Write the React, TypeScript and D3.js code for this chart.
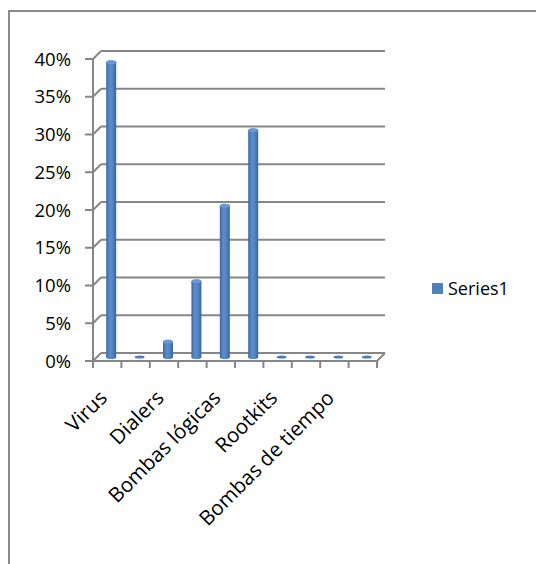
import { scaleBand, scaleLinear } from "d3";

const categories = [
  "Virus",
  "",
  "Dialers",
  "",
  "Bombas lógicas",
  "",
  "Rootkits",
  "",
  "Bombas de tiempo",
  ""
];
const seriesValues = [0.39, 0, 0.02, 0.1, 0.2, 0.3, 0, 0, 0, 0];
const yTickValues = [0, 0.05, 0.1, 0.15, 0.2, 0.25, 0.3, 0.35, 0.4];
const seriesName = "Series1";

const width = 536;
const height = 564;
const depthX = 8;
const depthY = -8;
const barRadius = 5;
const gridColor = "#868686";
const fontFamily = "'Open Sans', 'Noto Sans', sans-serif";

function App() {
  const x = scaleBand<number>()
    .domain(categories.map((_, i) => i))
    .range([93, 377])
    .padding(0);
  const y = scaleLinear().domain([0, 0.4]).range([361, 59]);

  const floorY = y(0);
  const midX = depthX / 2;
  const midY = depthY / 2;

  return (
    <svg
      width={width}
      height={height}
      style={{ position: "absolute", left: 0, top: 0, background: "#fff" }}
    >
      <defs>
        <linearGradient id="cyl" x1="0" x2="1" y1="0" y2="0">
          <stop offset="0" stopColor="#3b6aa3" />
          <stop offset="0.35" stopColor="#5a8ccb" />
          <stop offset="0.6" stopColor="#5687c6" />
          <stop offset="1" stopColor="#38659c" />
        </linearGradient>
      </defs>

      <rect
        x={9}
        y={11}
        width={width + 20}
        height={height + 20}
        fill="#fff"
        stroke="#8a8a8a"
        strokeWidth={2}
      />

      {/* back wall + side wall gridlines */}
      {yTickValues.map((v) => (
        <g key={v}>
          <line
            x1={x.range()[0]}
            x2={x.range()[0] + depthX}
            y1={y(v)}
            y2={y(v) + depthY}
            stroke={gridColor}
            strokeWidth={2}
          />
          <line
            x1={x.range()[0] + depthX}
            x2={x.range()[1] + depthX}
            y1={y(v) + depthY}
            y2={y(v) + depthY}
            stroke={gridColor}
            strokeWidth={2}
          />
          <line
            x1={x.range()[0] - 8}
            x2={x.range()[0]}
            y1={y(v)}
            y2={y(v)}
            stroke={gridColor}
            strokeWidth={2}
          />
          <text
            x={71}
            y={y(v)}
            dy="0.36em"
            textAnchor="end"
            fontFamily={fontFamily}
            fontSize={18.5}
            fill="#000"
          >
            {`${Math.round(v * 100)}%`}
          </text>
        </g>
      ))}

      {/* vertical axis */}
      <line
        x1={x.range()[0]}
        x2={x.range()[0]}
        y1={y(0.4)}
        y2={floorY}
        stroke={gridColor}
        strokeWidth={2}
      />

      {/* floor front edge */}
      <line
        x1={x.range()[0]}
        x2={x.range()[1]}
        y1={floorY}
        y2={floorY}
        stroke={gridColor}
        strokeWidth={2}
      />
      <line
        x1={x.range()[1]}
        x2={x.range()[1] + depthX}
        y1={floorY}
        y2={floorY + depthY}
        stroke={gridColor}
        strokeWidth={2}
      />

      {/* category ticks */}
      {categories.map((_, i) => (
        <line
          key={`t${i}`}
          x1={x(i) as number}
          x2={x(i) as number}
          y1={floorY}
          y2={floorY + 7}
          stroke={gridColor}
          strokeWidth={2}
        />
      ))}
      <line
        x1={x.range()[1]}
        x2={x.range()[1]}
        y1={floorY}
        y2={floorY + 7}
        stroke={gridColor}
        strokeWidth={2}
      />

      {/* cylinders */}
      {seriesValues.map((v, i) => {
        const cx = (x(i) as number) + x.bandwidth() / 2 + midX;
        const base = y(0) + midY;
        const top = y(v) + midY;
        if (v === 0) {
          return (
            <ellipse
              key={`b${i}`}
              cx={cx}
              cy={base}
              rx={barRadius}
              ry={1.6}
              fill="#4a7dbd"
            />
          );
        }
        return (
          <g key={`b${i}`}>
            <rect
              x={cx - barRadius}
              y={top}
              width={barRadius * 2}
              height={base - top}
              fill="url(#cyl)"
            />
            <ellipse
              cx={cx}
              cy={base}
              rx={barRadius}
              ry={2}
              fill="url(#cyl)"
            />
            <ellipse
              cx={cx}
              cy={top}
              rx={barRadius}
              ry={2}
              fill="#6b9ad6"
              stroke="#4a7dbd"
              strokeWidth={0.6}
            />
          </g>
        );
      })}

      {/* category labels */}
      {categories.map((c, i) =>
        c ? (
          <text
            key={`l${i}`}
            transform={`translate(${(x(i) as number) + x.bandwidth() / 2 - 9}, ${floorY + 28}) rotate(-45)`}
            textAnchor="end"
            dy="0.7em"
            fontFamily={fontFamily}
            fontSize={20.5}
            fill="#000"
          >
            {c}
          </text>
        ) : null
      )}

      {/* legend */}
      <rect x={432} y={283} width={11} height={11} fill="#4f81bd" />
      <text
        x={448}
        y={289}
        dy="0.36em"
        fontFamily={fontFamily}
        fontSize={18}
        fill="#000"
      >
        {seriesName}
      </text>
    </svg>
  );
}

export default App;
